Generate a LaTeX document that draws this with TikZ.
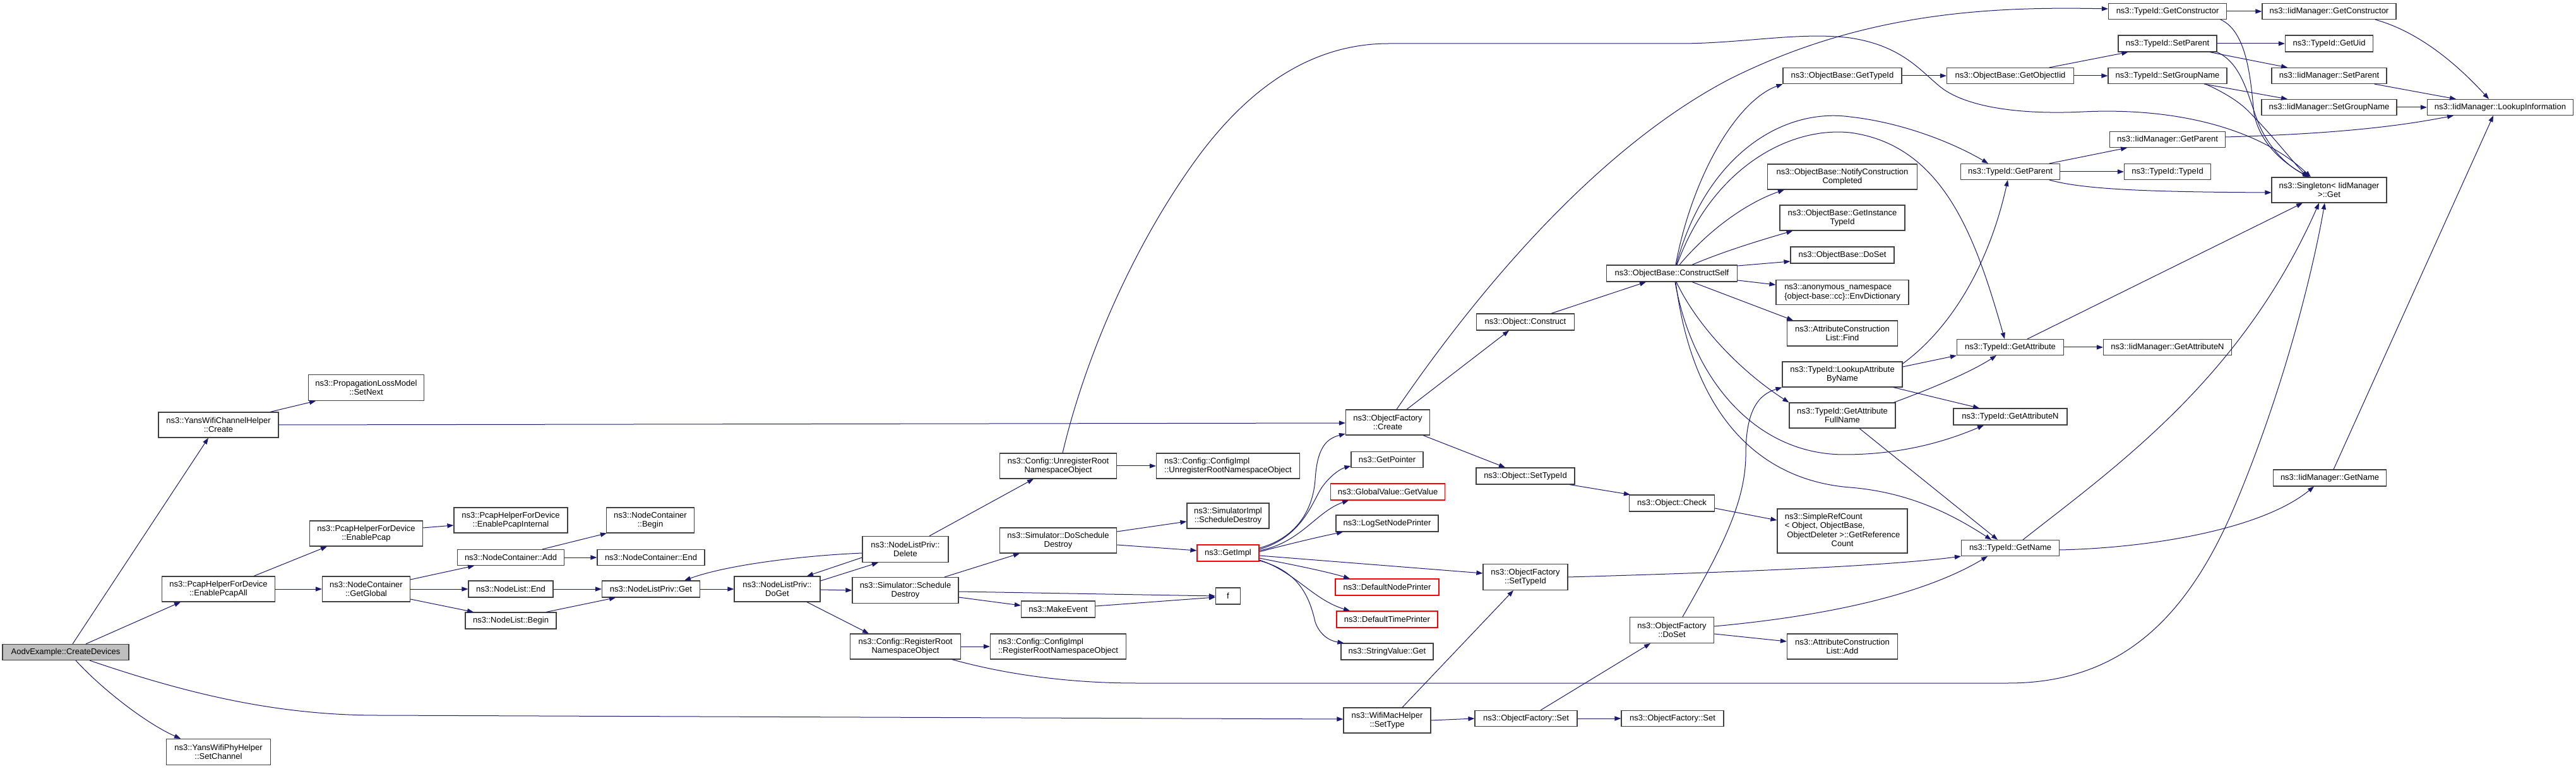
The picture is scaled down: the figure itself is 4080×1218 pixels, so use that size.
\documentclass[tikz,border=0pt]{standalone}
\usepackage{fontspec}
\setmainfont{Liberation Sans}
\usetikzlibrary{arrows.meta}
\definecolor{edgec}{HTML}{191970}
\definecolor{boxc}{HTML}{404040}
\tikzset{
 nd/.style={draw=boxc, line width=0.6pt, fill=white, inner sep=0pt, align=center, text=black, font=\fontsize{6.5}{7.3}\selectfont},
 sz/.style 2 args={minimum width=#1*0.5pt, minimum height=#2*0.5pt},
 redbox/.style={draw=red},
 rootbox/.style={fill=black!25},
 e/.style={draw=edgec, line width=0.5pt, -{Triangle[length=5pt,width=3.6pt]}}
}
\begin{document}
\begin{tikzpicture}[x=0.5pt,y=-0.5pt]
\fill[white] (0,0) rectangle (4080,1218);
\useasboundingbox (0,0) rectangle (4080,1218);
% nodes
\node[nd,rootbox,sz={200}{25}] (aodv) at (104,1033) {AodvExample::CreateDevices};
\node[nd,sz={190}{40}] (yc) at (346,673) {ns3::YansWifiChannelHelper\\::Create};
\node[nd,sz={183}{41}] (psn) at (580,614) {ns3::PropagationLossModel\\::SetNext};
\node[nd,sz={179}{40}] (pa) at (346,933) {ns3::PcapHelperForDevice\\::EnablePcapAll};
\node[nd,sz={179}{40}] (ep) at (580,845) {ns3::PcapHelperForDevice\\::EnablePcap};
\node[nd,sz={139}{40}] (gg) at (580,933) {ns3::NodeContainer\\::GetGlobal};
\node[nd,sz={165}{41}] (sc) at (346,1191) {ns3::YansWifiPhyHelper\\::SetChannel};
\node[nd,sz={180}{40}] (epi) at (809,824) {ns3::PcapHelperForDevice\\::EnablePcapInternal};
\node[nd,sz={139}{40}] (ncb) at (1030,824) {ns3::NodeContainer\\::Begin};
\node[nd,sz={169}{25}] (nca) at (809,883) {ns3::NodeContainer::Add};
\node[nd,sz={170}{25}] (nce) at (1031,883) {ns3::NodeContainer::End};
\node[nd,sz={134}{26}] (nle) at (809,933) {ns3::NodeList::End};
\node[nd,sz={144}{26}] (nlb) at (809,983) {ns3::NodeList::Begin};
\node[nd,sz={155}{26}] (nlg) at (1031,933) {ns3::NodeListPriv::Get};
\node[nd,sz={136}{40}] (dg) at (1231,933) {ns3::NodeListPriv::\\DoGet};
\node[nd,sz={136}{41}] (del) at (1434,870) {ns3::NodeListPriv::\\Delete};
\node[nd,sz={168}{41}] (sd) at (1434,935) {ns3::Simulator::Schedule\\Destroy};
\node[nd,sz={175}{40}] (rr) at (1434,1024) {ns3::Config::RegisterRoot\\NamespaceObject};
\node[nd,sz={185}{40}] (ur) at (1676,738) {ns3::Config::UnregisterRoot\\NamespaceObject};
\node[nd,sz={227}{40},align=left] (ciu) at (1945,738) {ns3::Config::ConfigImpl\\::UnregisterRootNamespaceObject};
\node[nd,sz={185}{40}] (dsd) at (1676,856) {ns3::Simulator::DoSchedule\\Destroy};
\node[nd,sz={130}{40}] (sid) at (1945,817) {ns3::SimulatorImpl\\::ScheduleDestroy};
\node[nd,redbox,sz={98}{26}] (gi) at (1945,876) {ns3::GetImpl};
\node[nd,sz={39}{26}] (f) at (1945,944) {f};
\node[nd,sz={117}{26}] (me) at (1676,965) {ns3::MakeEvent};
\node[nd,sz={215}{40},align=left] (cir) at (1676,1024) {ns3::Config::ConfigImpl\\::RegisterRootNamespaceObject};
\node[nd,sz={133}{40}] (ofc) at (2198,669) {ns3::ObjectFactory\\::Create};
\node[nd,sz={114}{25}] (gp) at (2197,728) {ns3::GetPointer};
\node[nd,redbox,sz={181}{26}] (gv) at (2198,779) {ns3::GlobalValue::GetValue};
\node[nd,sz={162}{26}] (lsn) at (2197,829) {ns3::LogSetNodePrinter};
\node[nd,sz={134}{41}] (ofst) at (2416,914) {ns3::ObjectFactory\\::SetTypeId};
\node[nd,redbox,sz={164}{26}] (dnp) at (2197,930) {ns3::DefaultNodePrinter};
\node[nd,redbox,sz={160}{26}] (dtp) at (2197,981) {ns3::DefaultTimePrinter};
\node[nd,sz={146}{26}] (svg) at (2197,1032) {ns3::StringValue::Get};
\node[nd,sz={156}{26}] (ost) at (2416,754) {ns3::Object::SetTypeId};
\node[nd,sz={135}{26}] (och) at (2648,797) {ns3::Object::Check};
\node[nd,sz={133}{41}] (ods) at (2648,998) {ns3::ObjectFactory\\::DoSet};
\node[nd,sz={138}{40}] (wm) at (2197,1141) {ns3::WifiMacHelper\\::SetType};
\node[nd,sz={162}{25}] (ofs1) at (2417,1138) {ns3::ObjectFactory::Set};
\node[nd,sz={162}{25}] (ofs2) at (2649,1138) {ns3::ObjectFactory::Set};
\node[nd,sz={155}{26}] (oc) at (2416,510) {ns3::Object::Construct};
\node[nd,sz={207}{26}] (cs) at (2648,433) {ns3::ObjectBase::ConstructSelf};
\node[nd,sz={188}{25}] (obt) at (2918,120) {ns3::ObjectBase::GetTypeId};
\node[nd,sz={201}{25}] (obo) at (3184,120) {ns3::ObjectBase::GetObjectIid};
\node[nd,sz={237}{40}] (obn) at (2918,280) {ns3::ObjectBase::NotifyConstruction\\Completed};
\node[nd,sz={198}{40}] (obi) at (2918,345) {ns3::ObjectBase::GetInstance\\TypeId};
\node[nd,sz={164}{26}] (obd) at (2918,404) {ns3::ObjectBase::DoSet};
\node[nd,sz={210}{39},align=left] (env) at (2918,463) {ns3::anonymous\_namespace\\\{object-base::cc\}::EnvDictionary};
\node[nd,sz={175}{40}] (acf) at (2918,528) {ns3::AttributeConstruction\\List::Find};
\node[nd,sz={190}{40}] (la) at (2918,593) {ns3::TypeId::LookupAttribute\\ByName};
\node[nd,sz={157}{25}] (tp) at (3184,272) {ns3::TypeId::GetParent};
\node[nd,sz={169}{25}] (ta) at (3184,550) {ns3::TypeId::GetAttribute};
\node[nd,sz={168}{40}] (gf) at (2918,658) {ns3::TypeId::GetAttribute\\FullName};
\node[nd,sz={180}{26}] (tan) at (3184,660) {ns3::TypeId::GetAttributeN};
\node[nd,sz={206}{70}] (src) at (2918,841) {\begin{tabular}{@{}l@{}}ns3::SimpleRefCount\\< Object, ObjectBase,\\\ ObjectDeleter >::GetReference\\\multicolumn{1}{@{}c@{}}{Count}\end{tabular}};
\node[nd,sz={155}{25}] (tgn) at (3184,868) {ns3::TypeId::GetName};
\node[nd,sz={175}{40}] (aca) at (2918,1024) {ns3::AttributeConstruction\\List::Add};
\node[nd,sz={187}{25}] (tgc) at (3433,18) {ns3::TypeId::GetConstructor};
\node[nd,sz={156}{26}] (tsp) at (3433,69) {ns3::TypeId::SetParent};
\node[nd,sz={188}{25}] (tsg) at (3433,120) {ns3::TypeId::SetGroupName};
\node[nd,sz={183}{25}] (igp) at (3433,221) {ns3::IidManager::GetParent};
\node[nd,sz={137}{25}] (tti) at (3433,272) {ns3::TypeId::TypeId};
\node[nd,sz={203}{25}] (ian) at (3433,550) {ns3::IidManager::GetAttributeN};
\node[nd,sz={212}{25}] (igc) at (3689,18) {ns3::IidManager::GetConstructor};
\node[nd,sz={139}{26}] (tgu) at (3689,69) {ns3::TypeId::GetUid};
\node[nd,sz={182}{25}] (isp) at (3689,120) {ns3::IidManager::SetParent};
\node[nd,sz={214}{25}] (isg) at (3689,170) {ns3::IidManager::SetGroupName};
\node[nd,sz={231}{25}] (ili) at (3960,170) {ns3::IidManager::LookupInformation};
\node[nd,sz={182}{40}] (sg) at (3689,301) {ns3::Singleton< IidManager\\>::Get};
\node[nd,sz={179}{26}] (ign) at (3690,757) {ns3::IidManager::GetName};
% edges
\draw[e] ([shift={(11,0)}]aodv.north) -- ([shift={(-16,0)}]yc.south);
\draw[e] ([shift={(32,0)}]aodv.north) -- ([shift={(-60,0)}]pa.south);
\draw[e] ([shift={(38,0)}]aodv.south) .. controls (300,1100) and (440,1133) .. (600,1133) -- ([shift={(0,-2)}]wm.west);
\draw[e] ([shift={(16,0)}]aodv.south) .. controls (160,1090) and (230,1145) .. ([shift={(-60,0)}]sc.north);
\draw[e] ([shift={(82,0)}]yc.north) -- ([shift={(-80,0)}]psn.south);
\draw[e] (yc.east) -- ([shift={(0,1)}]ofc.west);
\draw[e] ([shift={(56,0)}]pa.north) -- ([shift={(-62,0)}]ep.south);
\draw[e] (pa) -- (gg);
\draw[e] ([shift={(0,-9)}]ep.east) -- ([shift={(0,8)}]epi.west);
\draw[e] ([shift={(0,-15)}]gg.east) -- ([shift={(-58,0)}]nca.south);
\draw[e] (gg) -- (nle);
\draw[e] ([shift={(0,16)}]gg.east) -- ([shift={(-59,0)}]nlb.north);
\draw[e] ([shift={(50,0)}]nca.north) -- ([shift={(1,0)}]ncb.south west);
\draw[e] (nca) -- (nce);
\draw[e] (nle) -- (nlg);
\draw[e] ([shift={(56,0)}]nlb.north) -- ([shift={(-56,0)}]nlg.south);
\draw[e] (nlg) -- (dg);
\draw[e] ([shift={(0,-13)}]dg.east) -- ([shift={(-43,0)}]del.south);
\draw[e] ([shift={(0,13)}]del.west) -- ([shift={(47,0)}]dg.north);
\draw[e] ([shift={(0,6)}]del.west) .. controls (1270,880) and (1150,895) .. ([shift={(53,0)}]nlg.north);
\draw[e] ([shift={(0,1)}]dg.east) -- (sd.west);
\draw[e] ([shift={(47,0)}]dg.south) -- ([shift={(-58,0)}]rr.north);
\draw[e] ([shift={(38,0)}]del.north) -- ([shift={(-39,0)}]ur.south);
\draw[e] (ur) -- (ciu);
\draw[e] ([shift={(7,0)}]ur.north) .. controls (1720,560) and (1800,380) .. (1900,245) .. controls (1990,125) and (2090,69) .. (2200,69) -- (2660,69) .. controls (2760,69) and (2850,50) .. (2930,60) .. controls (3010,72) and (3040,110) .. (3070,135) .. controls (3110,170) and (3200,182) .. (3300,177) .. controls (3450,170) and (3580,205) .. ([shift={(-29,0)}]sg.north);
\draw[e] ([shift={(62,0)}]sd.north) -- ([shift={(-61,0)}]dsd.south);
\draw[e] ([shift={(0,2)}]sd.east) -- (f.west);
\draw[e] ([shift={(0,11)}]sd.east) -- ([shift={(0,-6)}]me.west);
\draw[e] ([shift={(0,-5)}]me.east) -- ([shift={(0,2)}]f.west);
\draw[e] ([shift={(0,-14)}]dsd.east) -- ([shift={(0,9)}]sid.west);
\draw[e] ([shift={(0,7)}]dsd.east) -- ([shift={(0,-4)}]gi.west);
\draw[e] (rr) -- (cir);
\draw[e] ([shift={(74,0)}]rr.south) .. controls (1600,1070) and (1700,1082) .. (1800,1082) -- (3180,1082) .. controls (3350,1082) and (3460,990) .. (3540,800) .. controls (3620,610) and (3665,420) .. ([shift={(-7,0)}]sg.south);
\draw[e] ([shift={(0,-8)}]gi.east) .. controls (2060,850) and (2080,800) .. (2083,760) .. controls (2086,710) and (2100,695) .. ([shift={(0,18)}]ofc.west);
\draw[e] ([shift={(0,-6)}]gi.east) .. controls (2065,850) and (2080,790) .. (2095,770) .. controls (2110,750) and (2125,742) .. ([shift={(0,10)}]gp.west);
\draw[e] ([shift={(0,-4)}]gi.east) .. controls (2060,860) and (2085,810) .. ([shift={(-62,0)}]gv.south);
\draw[e] ([shift={(0,-2)}]gi.east) .. controls (2040,862) and (2090,850) .. ([shift={(-70,0)}]lsn.south);
\draw[e] ([shift={(0,4)}]gi.east) -- ([shift={(0,-6)}]ofst.west);
\draw[e] ([shift={(0,8)}]gi.east) .. controls (2050,895) and (2100,905) .. ([shift={(-59,0)}]dnp.north);
\draw[e] ([shift={(0,11)}]gi.east) .. controls (2050,905) and (2080,950) .. ([shift={(-59,0)}]dtp.north);
\draw[e] ([shift={(0,12)}]gi.east) .. controls (2060,905) and (2075,950) .. (2083,985) .. controls (2090,1005) and (2105,1015) .. ([shift={(5,0)}]svg.north west);
\draw[e] ([shift={(30,0)}]ofc.north) -- ([shift={(-26,0)}]oc.south);
\draw[e] ([shift={(14,0)}]ofc.north) .. controls (2300,520) and (2500,250) .. (2740,125) .. controls (2950,20) and (3150,10) .. ([shift={(0,-4)}]tgc.west);
\draw[e] ([shift={(56,0)}]ofc.south) -- ([shift={(-32,0)}]ost.north);
\draw[e] ([shift={(41,0)}]oc.north) -- ([shift={(-41,0)}]cs.south);
\draw[e] ([shift={(70,0)}]ost.south) -- ([shift={(2,0)}]och.north west);
\draw[e] ([shift={(0,8)}]och.east) -- ([shift={(0,-17)}]src.west);
\draw[e] (ofst.east) .. controls (2800,905) and (3000,895) .. (tgn.south west);
\draw[e] ([shift={(17,0)}]ods.north) .. controls (2720,880) and (2765,800) .. (2765,720) .. controls (2765,650) and (2785,625) .. (la.south west);
\draw[e] ([shift={(0,-6)}]ods.east) .. controls (2900,975) and (3050,940) .. ([shift={(-36,0)}]tgn.south);
\draw[e] ([shift={(0,6)}]ods.east) -- ([shift={(0,-8)}]aca.west);
\draw[e] ([shift={(24,0)}]wm.north) -- ([shift={(-19,0)}]ofst.south);
\draw[e] (wm.east) -- (ofs1.west);
\draw[e] ([shift={(23,0)}]ofs1.north) -- ([shift={(-34,0)}]ods.south);
\draw[e] (ofs1) -- (ofs2);
\draw[e] ([shift={(6,0)}]cs.north) .. controls (2680,280) and (2750,160) .. (obt.south west);
\draw[e] ([shift={(7,0)}]cs.north) .. controls (2700,250) and (2820,170) .. (2930,185) .. controls (3020,195) and (3100,230) .. ([shift={(-35,0)}]tp.north);
\draw[e] ([shift={(8,0)}]cs.north) .. controls (2710,270) and (2830,200) .. (2930,210) .. controls (3080,230) and (3130,380) .. ([shift={(-9,0)}]ta.north);
\draw[e] ([shift={(12,0)}]cs.north) .. controls (2710,360) and (2770,320) .. ([shift={(27,0)}]obn.south west);
\draw[e] ([shift={(32,0)}]cs.north) .. controls (2730,398) and (2790,380) .. ([shift={(21,0)}]obi.south west);
\draw[e] ([shift={(0,-12)}]cs.east) -- ([shift={(0,10)}]obd.west);
\draw[e] ([shift={(0,11)}]cs.east) -- ([shift={(0,-12)}]env.west);
\draw[e] ([shift={(32,0)}]cs.south) -- ([shift={(-78,0)}]acf.north);
\draw[e] ([shift={(7,0)}]cs.south) .. controls (2690,520) and (2760,590) .. (gf.north west);
\draw[e] ([shift={(5,0)}]cs.south) .. controls (2680,600) and (2780,720) .. (2921,720) .. controls (3010,720) and (3080,700) .. ([shift={(-42,0)}]tan.south);
\draw[e] ([shift={(6,0)}]cs.south) .. controls (2680,650) and (2780,760) .. (2930,772) .. controls (3030,780) and (3100,820) .. ([shift={(-30,0)}]tgn.north);
\draw[e] (tgc) -- (igc);
\draw[e] ([shift={(84,0)}]tgc.south) .. controls (3560,50) and (3565,130) .. (3570,180) .. controls (3580,230) and (3620,260) .. ([shift={(-32,0)}]sg.north);
\draw[e] (tsp) -- (tgu);
\draw[e] ([shift={(67,0)}]tsp.south) -- ([shift={(-66,0)}]isp.north);
\draw[e] (tsp.south east) .. controls (3550,100) and (3560,150) .. (3575,190) .. controls (3590,230) and (3620,262) .. ([shift={(-31,0)}]sg.north);
\draw[e] ([shift={(58,0)}]tsg.south) -- ([shift={(-66,0)}]isg.north);
\draw[e] ([shift={(60,0)}]tsg.south) .. controls (3520,145) and (3545,160) .. (3560,175) .. controls (3600,215) and (3630,255) .. ([shift={(-34,0)}]sg.north);
\draw[e] ([shift={(73,0)}]igc.south) .. controls (3830,50) and (3890,100) .. ([shift={(-18,0)}]ili.north);
\draw[e] ([shift={(-20,0)}]isp.south east) -- ([shift={(-70,0)}]ili.north);
\draw[e] (isg) -- (ili);
\draw[e] ([shift={(0,-4)}]igp.east) .. controls (3700,212) and (3800,200) .. ([shift={(-74,0)}]ili.south);
\draw[e] ([shift={(6,0)}]ign.north) -- ([shift={(-11,0)}]ili.south);
\draw[e] (obt) -- (obo);
\draw[e] ([shift={(62,0)}]obo.north) -- ([shift={(16,0)}]tsp.south west);
\draw[e] (obo) -- (tsg);
\draw[e] ([shift={(62,0)}]tp.north) -- ([shift={(-64,0)}]igp.south);
\draw[e] (tp) -- (tti);
\draw[e] ([shift={(62,0)}]tp.south) .. controls (3300,300) and (3400,304) .. ([shift={(0,4)}]sg.west);
\draw[e] (ta) -- (ian);
\draw[e] ([shift={(27,0)}]ta.north) -- ([shift={(-42,0)}]sg.south);
\draw[e] ([shift={(0,-17)}]la.east) .. controls (3090,520) and (3150,420) .. ([shift={(-4,0)}]tp.south);
\draw[e] ([shift={(0,-12)}]la.east) -- (ta.south west);
\draw[e] ([shift={(81,0)}]la.south) -- ([shift={(-49,0)}]tan.north);
\draw[e] ([shift={(-3,0)}]gf.north east) .. controls (3060,615) and (3120,590) .. ([shift={(-22,0)}]ta.south);
\draw[e] ([shift={(27,0)}]gf.south) -- ([shift={(-20,0)}]tgn.north);
\draw[e] ([shift={(0,3)}]tgn.east) .. controls (3400,868) and (3580,840) .. ([shift={(-25,0)}]ign.south);
\draw[e] ([shift={(20,0)}]tgn.north) .. controls (3350,740) and (3550,600) .. ([shift={(-16,0)}]sg.south);
\end{tikzpicture}
\end{document}
